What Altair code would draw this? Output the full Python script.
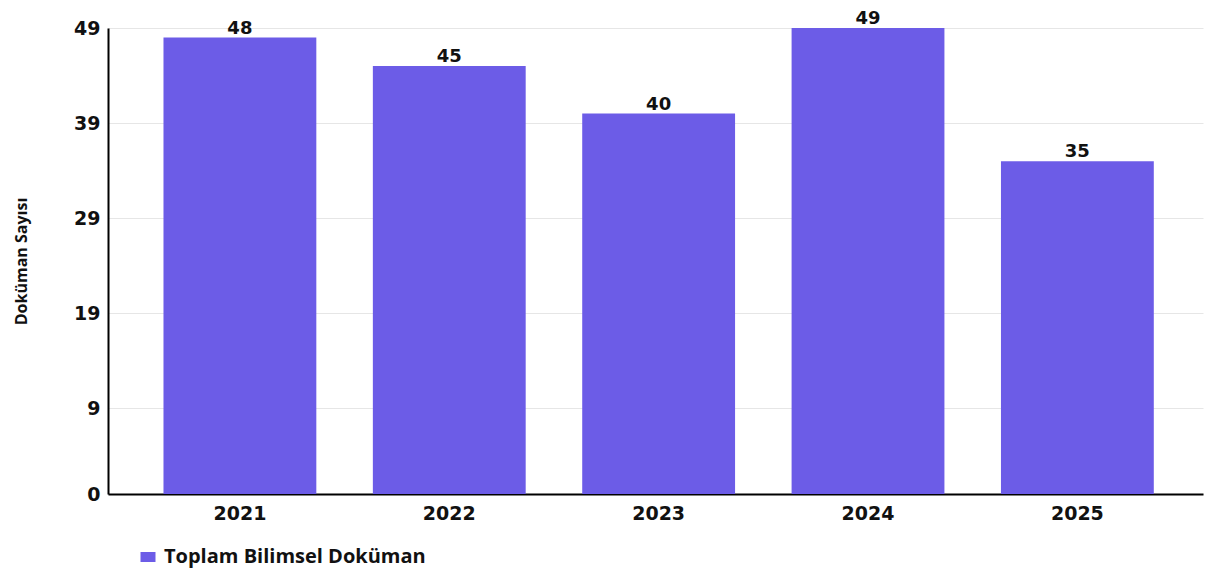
import altair as alt
import pandas as pd

years = ["2021", "2022", "2023", "2024", "2025"]
counts = [48, 45, 40, 49, 35]
series = ["Toplam Bilimsel Doküman"] * 5
y_ticks = [0, 9, 19, 29, 39, 49]

df = pd.DataFrame({"Yıl": years, "Sayı": counts, "Seri": series})

NUM_FONT = "DejaVu Sans"
TXT_FONT = "Open Sans"

x = alt.X("Yıl:N", title=None, sort=years,
          scale=alt.Scale(paddingInner=0.27, paddingOuter=0.25, align=0.53),
          axis=alt.Axis(labelAngle=0, labelFontSize=19, labelFontWeight="bold",
                        labelColor="#111", domainColor="#000", domainWidth=2,
                        ticks=False, labelPadding=10, grid=False, labelFont=NUM_FONT))
y = alt.Y("Sayı:Q", title="Doküman Sayısı",
          scale=alt.Scale(domain=[0, 49], nice=False),
          axis=alt.Axis(values=y_ticks, labelFontSize=19, labelFontWeight="bold",
                        labelColor="#111", domainColor="#000", domainWidth=2,
                        ticks=False, labelPadding=8, gridColor="#e6e6e6",
                        titleFontSize=16, titleFontWeight="bold", titleColor="#111",
                        titlePadding=44, labelFont=NUM_FONT, titleFont=TXT_FONT))

bars = alt.Chart(df).mark_bar(color="#6c5ce7").encode(
    x=x, y=y,
    color=alt.Color("Seri:N", scale=alt.Scale(range=["#6c5ce7"]),
                    legend=alt.Legend(title=None, orient="none", legendX=30, legendY=519,
                                      symbolType="M-1,-0.67L1,-0.67L1,0.67L-1,0.67Z",
                                      symbolSize=225, symbolStrokeWidth=0,
                                      labelFontSize=20, labelFontWeight="bold",
                                      labelLimit=0, labelOffset=6,
                                      labelColor="#111", labelFont=TXT_FONT))
)
labels = alt.Chart(df).mark_text(dy=-4, baseline="alphabetic", fontSize=18,
                                 fontWeight="bold", color="#111", font=NUM_FONT).encode(
    x=alt.X("Yıl:N", sort=years), y="Sayı:Q", text="Sayı:Q")

chart = (bars + labels).properties(
    width=1095, height=466,
    autosize=alt.AutoSizeParams(type="none"),
    padding={"left": 100, "top": 20, "right": 8, "bottom": 77},
).configure_view(stroke=None)

chart.save("out.html", embed_options={"renderer": "svg", "actions": False})
